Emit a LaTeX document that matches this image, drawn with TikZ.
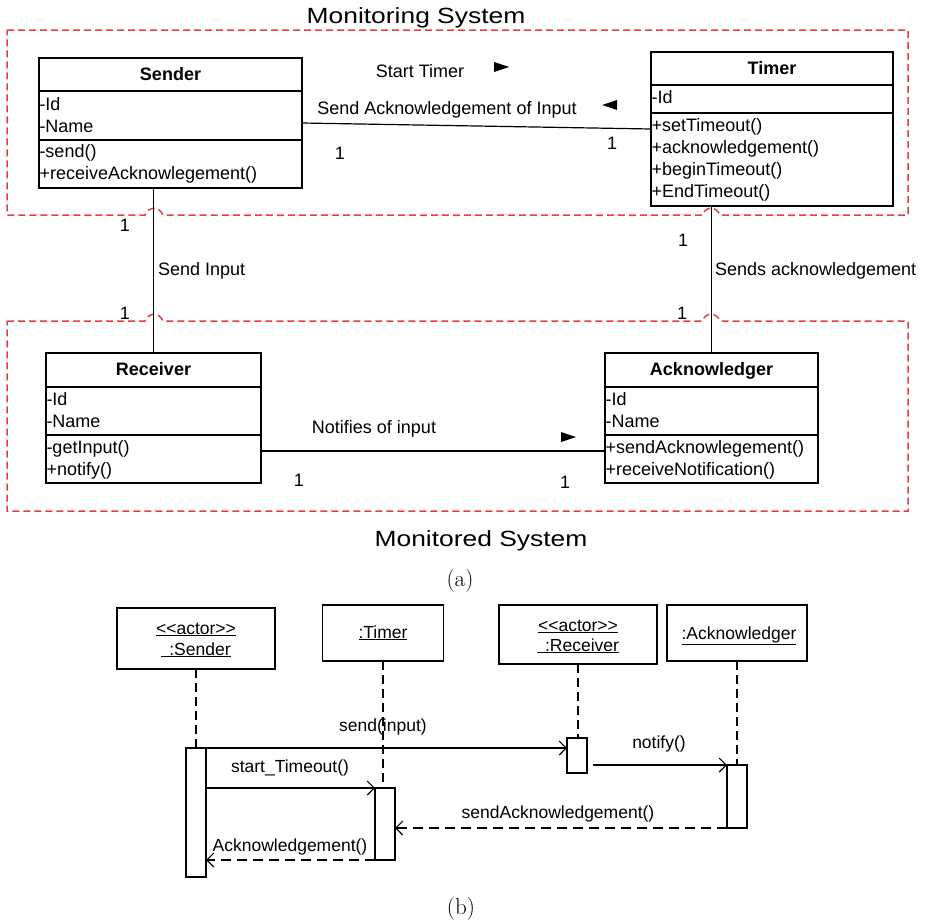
\documentclass[tikz,border=0pt]{standalone}
\usepackage{fontspec}
\usepackage{graphicx}
\newfontfamily\arial{Liberation Sans}
\usetikzlibrary{arrows.meta,calc}
\definecolor{boxred}{RGB}{230,60,70}
\tikzset{
  every node/.style={inner sep=0pt, outer sep=0pt},
  txt/.style={font=\arial\fontsize{18}{22}\selectfont},
  item/.style={txt, anchor=base west},
  lbl/.style={txt, anchor=base},
  head/.style={font=\arial\bfseries\fontsize{18}{22}\selectfont, anchor=base},
  cls/.style={draw, line width=1.3pt},
  sep/.style={line width=1.3pt},
  assoc/.style={line width=1.2pt},
  redbox/.style={draw=boxred, line width=1.5pt, dash pattern=on 7pt off 4pt},
  title/.style={font=\arial\fontsize{22}{26}\selectfont, anchor=base},
  capt/.style={font=\fontsize{23}{26}\selectfont, anchor=base},
  sq/.style={font=\arial\fontsize{17.5}{21}\selectfont, anchor=base},
  obj/.style={draw, line width=1.1pt},
  act/.style={draw, fill=white, line width=1.1pt, minimum width=20pt},
  life/.style={line width=1.1pt, dash pattern=on 9pt off 5pt},
  msg/.style={line width=1.1pt, -{Straight Barb[length=7pt,width=14pt,line width=1.1pt]}},
  ret/.style={msg, dash pattern=on 10pt off 6pt},
}
\begin{document}
\begin{tikzpicture}[x=1pt,y=-1pt]
\useasboundingbox (0,0) rectangle (928,921);

% ---------- (a) class diagram ----------
\node[title] (t1) at (416,23.5) {\scalebox{1.2}[1]{Monitoring System}};
\node[title] (t2) at (481,546) {\scalebox{1.2}[1]{Monitored System}};

% red dashed frames with jumps
\draw[redbox] (7,30) -- (908,30) -- (908,215) -- (720,215)
   .. controls (716,206) and (706,206) .. (702,215)
   -- (163,215) .. controls (159,206) and (149,206) .. (145,215)
   -- (7,215) -- cycle;
\draw[redbox] (7,321) -- (145,321) .. controls (149,312) and (159,312) .. (163,321)
   -- (702,321) .. controls (706,312) and (716,312) .. (720,321)
   -- (908,321) -- (908,511) -- (7,511) -- cycle;

% Sender
\node[cls, minimum width=263pt, minimum height=130pt] (sender) at (170.5,123) {};
\draw[sep] (sender.west |- 0,91) -- (sender.east |- 0,91);
\draw[sep] (sender.west |- 0,140) -- (sender.east |- 0,140);
\node[head] (sendern) at (170.5,80) {Sender};
\node[item] (s1) at (39.5,110) {-Id};
\node[item] (s2) at (39.5,132) {-Name};
\node[item] (s3) at (39.5,157) {-send()};
\node[item] (s4) at (39.5,179) {+receiveAcknowlegement()};

% Timer
\node[cls, minimum width=242pt, minimum height=154pt] (timer) at (772,129) {};
\draw[sep] (timer.west |- 0,85) -- (timer.east |- 0,85);
\draw[sep] (timer.west |- 0,113) -- (timer.east |- 0,113);
\node[head] (timern) at (772,74) {Timer};
\node[item] (t1a) at (651.5,103) {-Id};
\node[item] (t2a) at (651.5,131) {+setTimeout()};
\node[item] (t3a) at (651.5,153) {+acknowledgement()};
\node[item] (t4a) at (651.5,175) {+beginTimeout()};
\node[item] (t5a) at (651.5,197) {+EndTimeout()};

% Receiver
\node[cls, minimum width=215pt, minimum height=130pt] (receiver) at (153.5,418) {};
\draw[sep] (receiver.west |- 0,387) -- (receiver.east |- 0,387);
\draw[sep] (receiver.west |- 0,435) -- (receiver.east |- 0,435);
\node[head] (receivern) at (153.5,375) {Receiver};
\node[item] (r1) at (46.5,405) {-Id};
\node[item] (r2) at (46.5,427) {-Name};
\node[item] (r3) at (46.5,453) {-getInput()};
\node[item] (r4) at (46.5,475) {+notify()};

% Acknowledger
\node[cls, minimum width=213pt, minimum height=130pt] (ack) at (711.5,418) {};
\draw[sep] (ack.west |- 0,387) -- (ack.east |- 0,387);
\draw[sep] (ack.west |- 0,435) -- (ack.east |- 0,435);
\node[head] (ackn) at (711.5,375) {Acknowledger};
\node[item] (k1) at (605.5,405) {-Id};
\node[item] (k2) at (605.5,427) {-Name};
\node[item] (k3) at (605.5,453) {+sendAcknowlegement()};
\node[item] (k4) at (605.5,475) {+receiveNotification()};

% associations
\draw[assoc] (sender.east) -- (timer.west);
\draw[assoc] (receiver.north) -- (receiver.north |- sender.south);
\draw[assoc] (ack.north) -- (ack.north |- timer.south);
\draw[assoc] ([yshift=-33pt]receiver.east) -- ([yshift=-33pt]ack.west);

% association labels
\node[lbl] (l1) at (420,77.5) {Start Timer};
\fill (494,62) -- (509,67) -- (494,72) -- cycle;
\node[lbl] (l2) at (447,114.5) {Send Acknowledgement of Input};
\fill (617,100) -- (602,105) -- (617,110) -- cycle;
\node[lbl] (m1) at (340,159.5) {1};
\node[lbl] (m2) at (612,149.5) {1};
\node[lbl] (m3) at (125,231.5) {1};
\node[lbl] (m4) at (125,319.5) {1};
\node[txt, anchor=base west] (l3) at (158,275.5) {Send Input};
\node[lbl] (m5) at (683,246.5) {1};
\node[lbl] (m6) at (682,319.5) {1};
\node[txt, anchor=base west] (l4) at (715,275.5) {Sends acknowledgement};
\node[lbl] (l5) at (374,433.5) {Notifies of input};
\fill (561,432) -- (576,437) -- (561,442) -- cycle;
\node[lbl] (m7) at (299,486.5) {1};
\node[lbl] (m8) at (565,488.5) {1};

\node[capt] (capa) at (460,586) {(a)};

% ---------- (b) sequence diagram ----------
\node[obj, minimum width=158pt, minimum height=61pt] (sS) at (196,638.5) {};
\node[obj, minimum width=121pt, minimum height=56pt] (sT) at (383,633) {};
\node[obj, minimum width=158pt, minimum height=59pt] (sR) at (578,634.5) {};
\node[obj, minimum width=140pt, minimum height=56pt] (sA) at (737,633) {};

\node[sq] (sS1) at (196,634) {\underline{<\kern0pt<actor>\kern0pt>}};
\node[sq] (sS2) at (196,655) {\underline{\hspace*{8pt}:Sender}};
\node[sq] (sT1) at (383,638) {\underline{:Timer}};
\node[sq] (sR1) at (578,631) {\underline{<\kern0pt<actor>\kern0pt>}};
\node[sq] (sR2) at (578,651) {\underline{\hspace*{8pt}:Receiver}};
\node[sq] (sA1) at (739,639) {\underline{:Acknowledger}};

\node[act, minimum height=129pt] (aS) at (196,812.5) {};
\node[act, minimum height=72pt] (aT) at (385,824) {};
\node[act, minimum height=35pt] (aR) at (577,755.5) {};
\node[act, minimum height=63pt] (aA) at (737,796.5) {};

\draw[life] (sS.south) -- (aS.north);
\draw[life] (sT.south) -- (sT.south |- aT.north);
\draw[life] (sR.south) -- (sR.south |- aR.north);
\draw[life] (sA.south) -- (aA.north);

\coordinate (nS) at ($(aR.east |- aA.north)+(6,0)$);
\draw[msg] (aS.north east) -- (aS.north east -| aR.west);
\draw[msg] (aS.east |- aT.north) -- (aT.north west);
\draw[msg] (nS) -- (aA.north west);
\draw[ret] (aA.south west) -- (aA.south west -| aT.east);
\draw[ret] (aT.south west) -- (aT.south west -| aS.east);

\node[sq] (q1) at (383,731) {send(input)};
\node[sq] (q2) at (290,772) {start\_Timeout()};
\node[sq] (q3) at (659,748) {notify()};
\node[sq] (q4) at (558,818) {sendAcknowledgement()};
\node[sq] (q5) at (290,851) {Acknowledgement()};

\node[capt] (capb) at (461,914) {(b)};
\end{tikzpicture}
\end{document}
